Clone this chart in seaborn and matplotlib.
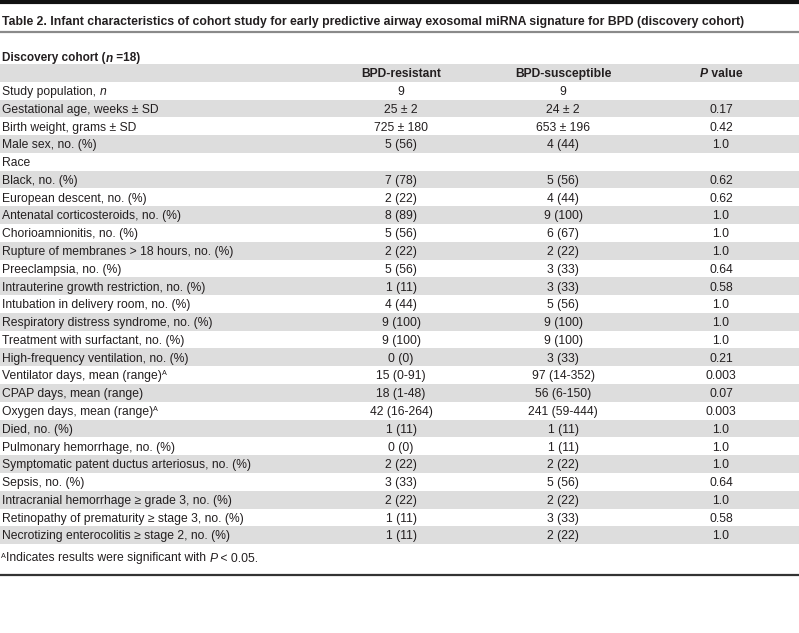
import matplotlib
matplotlib.use("Agg")
import matplotlib.pyplot as plt
import seaborn as sns

# Table content
title = ("Table 2. Infant characteristics of cohort study for early predictive "
         "airway exosomal miRNA signature for BPD (discovery cohort)")
groups = ["BPD-resistant", "BPD-susceptible"]

labels = [
    "Study population, n",
    "Gestational age, weeks ± SD",
    "Birth weight, grams ± SD",
    "Male sex, no. (%)",
    "Race",
    "Black, no. (%)",
    "European descent, no. (%)",
    "Antenatal corticosteroids, no. (%)",
    "Chorioamnionitis, no. (%)",
    "Rupture of membranes > 18 hours, no. (%)",
    "Preeclampsia, no. (%)",
    "Intrauterine growth restriction, no. (%)",
    "Intubation in delivery room, no. (%)",
    "Respiratory distress syndrome, no. (%)",
    "Treatment with surfactant, no. (%)",
    "High-frequency ventilation, no. (%)",
    "Ventilator days, mean (range)",
    "CPAP days, mean (range)",
    "Oxygen days, mean (range)",
    "Died, no. (%)",
    "Pulmonary hemorrhage, no. (%)",
    "Symptomatic patent ductus arteriosus, no. (%)",
    "Sepsis, no. (%)",
    "Intracranial hemorrhage ≥ grade 3, no. (%)",
    "Retinopathy of prematurity ≥ stage 3, no. (%)",
    "Necrotizing enterocolitis ≥ stage 2, no. (%)",
]
resistant = ["9", "25 ± 2", "725 ± 180", "5 (56)", "", "7 (78)", "2 (22)", "8 (89)",
             "5 (56)", "2 (22)", "5 (56)", "1 (11)", "4 (44)", "9 (100)", "9 (100)",
             "0 (0)", "15 (0-91)", "18 (1-48)", "42 (16-264)", "1 (11)", "0 (0)",
             "2 (22)", "3 (33)", "2 (22)", "1 (11)", "1 (11)"]
susceptible = ["9", "24 ± 2", "653 ± 196", "4 (44)", "", "5 (56)", "4 (44)", "9 (100)",
               "6 (67)", "2 (22)", "3 (33)", "3 (33)", "5 (56)", "9 (100)", "9 (100)",
               "3 (33)", "97 (14-352)", "56 (6-150)", "241 (59-444)", "1 (11)", "1 (11)",
               "2 (22)", "5 (56)", "2 (22)", "3 (33)", "2 (22)"]
p_values = ["", "0.17", "0.42", "1.0", "", "0.62", "0.62", "1.0", "1.0", "1.0", "0.64",
            "0.58", "1.0", "1.0", "1.0", "0.21", "0.003", "0.07", "0.003", "1.0", "1.0",
            "1.0", "0.64", "1.0", "0.58", "1.0"]
significant = ["Ventilator days, mean (range)", "Oxygen days, mean (range)"]

sns.set_theme(style="white")
plt.rcParams["font.family"] = ["Liberation Sans", "DejaVu Sans"]

W, H = 799, 633
fig = plt.figure(figsize=(W / 100, H / 100), dpi=100)
ax = fig.add_axes([0, 0, 1, 1])
ax.set_xlim(0, W)
ax.set_ylim(H, 0)
ax.axis("off")

txt = "#231f20"
shade = "#dddddd"
fs = 8.75
x_lab, x_res, x_sus, x_p = 2, 401, 563, 721
y0, rh = 64, 17.78  # top of header row, row height
off = 4.3  # baseline offset below row middle

def parts(x, y, segs, size=fs, weight="normal"):
    # draw consecutive text pieces on the same baseline
    prev = ax.text(x, y, segs[0][0], fontsize=size, weight=weight, style=segs[0][1],
                   color=txt, va="baseline", ha="left")
    for s, st in segs[1:]:
        prev = ax.annotate(s, xy=(1, y), xycoords=(prev, "data"), fontsize=size,
                           weight=weight, style=st, color=txt, va="baseline", ha="left")
    return prev

# top bar, title, rule
ax.axhline(1.5, color="#111111", lw=3)
ax.text(x_lab, 25, title, fontsize=8.8, weight="bold", color=txt, va="baseline")
ax.axhline(31.5, color="#8a8a8a", lw=1.6)
parts(x_lab, 61.5, [("Discovery cohort (", "normal"), ("n", "italic"), (" =18)", "normal")],
      size=8.5, weight="bold")

# header row
ax.axhspan(y0, y0 + rh, color=shade, lw=0)
base = y0 + rh * 0.5 + off
ax.text(x_res, base, groups[0], fontsize=fs, weight="bold", ha="center", va="baseline", color=txt)
ax.text(x_sus, base, groups[1], fontsize=fs, weight="bold", ha="center", va="baseline", color=txt)
pv = ax.text(x_p - 21, base, "P", fontsize=fs, weight="bold", style="italic",
             ha="left", va="baseline", color=txt)
ax.annotate(" value", xy=(1, base), xycoords=(pv, "data"), fontsize=fs, weight="bold",
            ha="left", va="baseline", color=txt)

for i, lab in enumerate(labels):
    top = y0 + rh * (i + 1)
    if i % 2 == 1:
        ax.axhspan(top, top + rh, color=shade, lw=0)
    yb = top + rh * 0.5 + off
    if lab.endswith(", n"):
        parts(x_lab, yb, [(lab[:-1], "normal"), ("n", "italic")])
    else:
        t = ax.text(x_lab, yb, lab, fontsize=fs, color=txt, va="baseline", ha="left")
        if lab in significant:
            ax.annotate("A", xy=(1, yb - 4), xycoords=(t, "data"), fontsize=5.2,
                        color=txt, va="baseline", ha="left")
    ax.text(x_res, yb, resistant[i], fontsize=fs, color=txt, ha="center", va="baseline")
    ax.text(x_sus, yb, susceptible[i], fontsize=fs, color=txt, ha="center", va="baseline")
    ax.text(x_p, yb, p_values[i], fontsize=fs, color=txt, ha="center", va="baseline")

# footnote
fy = 561.5
a = ax.text(x_lab - 1, fy - 4, "A", fontsize=5.2, color=txt, va="baseline", ha="left")
f1 = ax.annotate("Indicates results were significant with ", xy=(1, fy), xycoords=(a, "data"),
                 fontsize=fs, color=txt, va="baseline", ha="left")
f2 = ax.annotate("P", xy=(1, fy), xycoords=(f1, "data"), fontsize=fs, style="italic",
                 color=txt, va="baseline", ha="left")
ax.annotate(" < 0.05.", xy=(1, fy), xycoords=(f2, "data"), fontsize=fs, color=txt,
            va="baseline", ha="left")
ax.axhline(575, color="#333333", lw=1.6)

fig.savefig("out.png", dpi=100, facecolor="white")
